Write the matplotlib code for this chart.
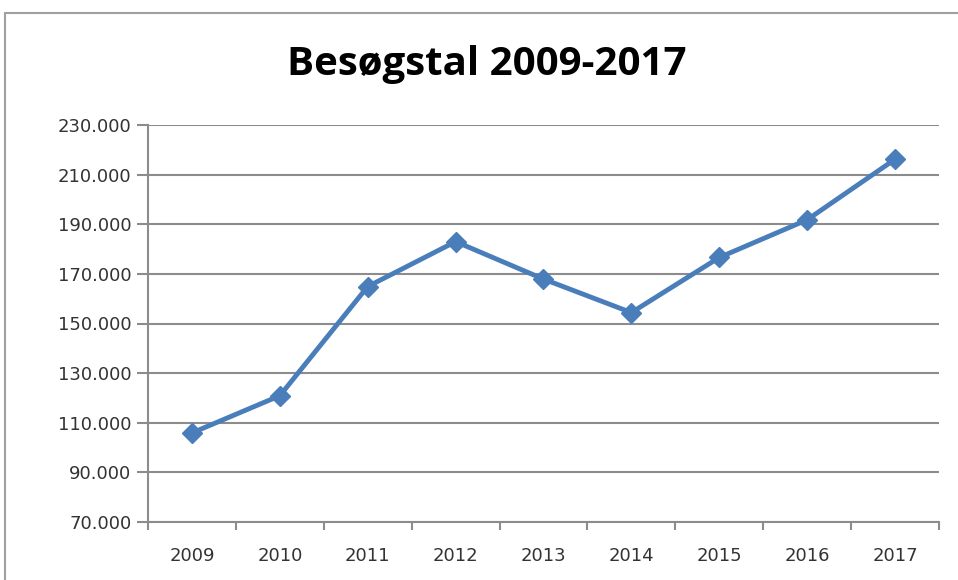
import matplotlib
matplotlib.use('Agg')

import matplotlib.pyplot as plt
from matplotlib.patches import Rectangle
from matplotlib.ticker import FuncFormatter

# Data (visitors per year)
years = ['2009', '2010', '2011', '2012', '2013', '2014', '2015', '2016', '2017']
visitors = [105900, 120900, 164900, 183000, 167900, 154400, 176600, 191800, 216200]
y_ticks = [70000, 90000, 110000, 130000, 150000, 170000, 190000, 210000, 230000]

line_color = '#4A7EBB'
grid_color = '#8C8C8C'
text_color = '#333333'

fig = plt.figure(figsize=(9.58, 5.8), dpi=100)
fig.patch.set_facecolor('white')

# Outer chart border (Excel style), cut off on right and bottom
fig.patches.append(Rectangle((5 / 958, -0.05), 1.2, 1 - 13 / 580 + 0.05,
                             transform=fig.transFigure, fill=False,
                             edgecolor='#A0A0A0', linewidth=1.5))

ax = fig.add_axes([148 / 958, 1 - 522 / 580, (939 - 148) / 958, (522 - 125) / 580])

x = list(range(len(years)))
ax.plot(x, visitors, color=line_color, linewidth=3.5, marker='D', markersize=10,
        markerfacecolor=line_color, markeredgecolor=line_color, zorder=3)

ax.set_xlim(-0.5, len(years) - 0.5)
ax.set_ylim(y_ticks[0], y_ticks[-1])
ax.set_yticks(y_ticks)
ax.yaxis.set_major_formatter(FuncFormatter(lambda v, p: f'{v:,.0f}'.replace(',', '.')))

ax.set_xticks(x)
ax.set_xticklabels(years)
ax.set_xticks([i - 0.5 for i in range(len(years) + 1)], minor=True)
ax.tick_params(axis='x', which='major', length=0, pad=18, labelsize=13, labelcolor=text_color)
ax.tick_params(axis='x', which='minor', length=6, width=1.5, color=grid_color, direction='out')
ax.tick_params(axis='y', length=8, width=1.5, color=grid_color, pad=4, labelsize=13, labelcolor=text_color)

ax.grid(axis='y', color=grid_color, linewidth=1.5)
ax.set_axisbelow(True)
for side in ['top', 'right']:
    ax.spines[side].set_visible(False)
for side in ['left', 'bottom']:
    ax.spines[side].set_color(grid_color)
    ax.spines[side].set_linewidth(1.5)

fig.text(487 / 958, 1 - 64 / 580, 'Besøgstal 2009-2017', ha='center', va='center',
         fontsize=29, fontweight='bold', family='Open Sans', color='black')

fig.savefig('out.png', dpi=100)
